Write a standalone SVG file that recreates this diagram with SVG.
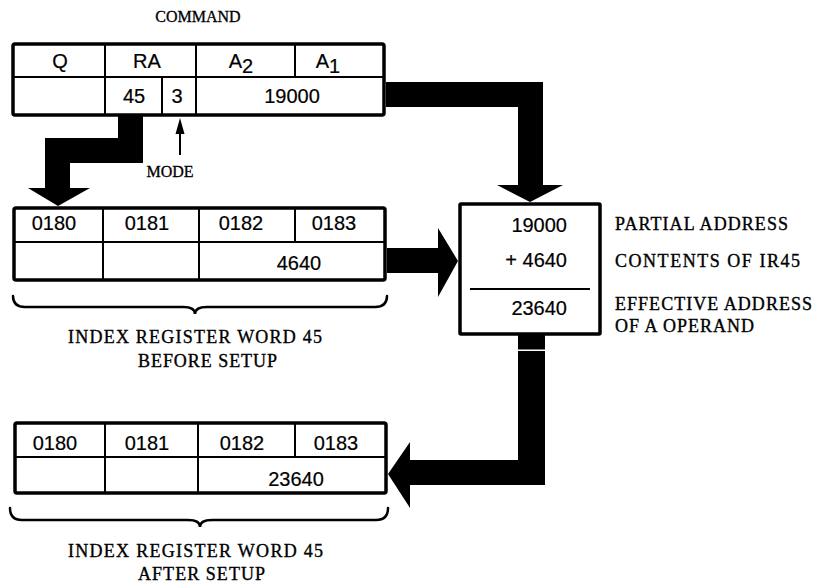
<svg xmlns="http://www.w3.org/2000/svg" width="817" height="586" viewBox="0 0 817 586">
<style>
.box{fill:#fff;stroke:#000;stroke-width:3.5;}
.div{stroke:#000;stroke-width:2;fill:none;}
.cell{font-family:"Liberation Sans",Arial,sans-serif;font-size:20px;fill:#000;stroke:#000;stroke-width:0.2;text-anchor:middle;}
.sum{font-family:"Liberation Sans",Arial,sans-serif;font-size:20px;fill:#000;stroke:#000;stroke-width:0.2;text-anchor:end;}
.ser{font-family:"Liberation Serif","Times New Roman",serif;font-size:16px;fill:#000;stroke:#000;stroke-width:0.3;text-anchor:middle;}
.typ{font-family:"Liberation Serif","Times New Roman",serif;font-size:18px;fill:#000;stroke:#000;stroke-width:0.35;}
.brace{fill:none;stroke:#000;stroke-width:2.5;stroke-linecap:round;}
.flow{fill:#000;stroke:none;}
</style>
<rect width="817" height="586" fill="#fff"/>

<g id="command">
<text class="ser" x="198" y="22">COMMAND</text>
<rect class="box" x="13" y="44" width="371" height="71" rx="2"/>
<path class="div" d="M14,77 H383 M105,45 V114 M196,45 V114 M295,45 V77 M162,77 V114"/>
<text class="cell" x="60" y="68">Q</text>
<text class="cell" x="147" y="68">RA</text>
<text class="cell" x="241" y="68">A<tspan dy="5">2</tspan></text>
<text class="cell" x="328" y="68">A<tspan dy="5">1</tspan></text>
<text class="cell" x="134" y="103">45</text>
<text class="cell" x="177" y="103">3</text>
<text class="cell" x="292" y="103">19000</text>
</g>

<g id="mode">
<line class="div" x1="180" y1="155" x2="180" y2="130"/>
<polygon class="flow" points="180,118 184.5,134 175.5,134"/>
<text class="ser" x="170" y="177">MODE</text>
</g>

<g id="index-before">
<rect class="box" x="14" y="208" width="371" height="72" rx="2"/>
<path class="div" d="M15,242 H384 M103,209 V279 M199,209 V279 M295,209 V242"/>
<text class="cell" x="54" y="230">0180</text>
<text class="cell" x="147" y="230">0181</text>
<text class="cell" x="241" y="230">0182</text>
<text class="cell" x="334" y="230">0183</text>
<text class="cell" x="299" y="270">4640</text>
<path class="brace" d="M13,296 Q13,307 25,307 L183,307 Q195,307 195,314 Q195,307 207,307 L375,307 Q387,307 387,296"/>
<text class="typ" x="68" y="343" textLength="254" lengthAdjust="spacing">INDEX REGISTER WORD 45</text>
<text class="typ" x="138" y="367" textLength="139" lengthAdjust="spacing">BEFORE SETUP</text>
</g>

<g id="sum">
<rect class="box" x="460" y="204" width="140" height="130" rx="1"/>
<text class="sum" x="567" y="232">19000</text>
<text class="sum" x="567" y="267">+ 4640</text>
<line class="div" x1="470" y1="289" x2="590" y2="289"/>
<text class="sum" x="567" y="315">23640</text>
<text class="typ" x="615" y="230" textLength="173" lengthAdjust="spacing">PARTIAL ADDRESS</text>
<text class="typ" x="615" y="267" textLength="185" lengthAdjust="spacing">CONTENTS OF IR45</text>
<text class="typ" x="615" y="310" textLength="197" lengthAdjust="spacing">EFFECTIVE ADDRESS</text>
<text class="typ" x="615" y="332" textLength="139" lengthAdjust="spacing">OF A OPERAND</text>
</g>

<g id="index-after">
<rect class="box" x="15" y="423" width="371" height="70" rx="2"/>
<path class="div" d="M16,457 H385 M105,424 V492 M198,424 V492 M295,424 V457"/>
<text class="cell" x="55" y="450">0180</text>
<text class="cell" x="147" y="450">0181</text>
<text class="cell" x="242" y="450">0182</text>
<text class="cell" x="336" y="450">0183</text>
<text class="cell" x="296" y="486">23640</text>
<path class="brace" d="M10,508 Q10,520 22,520 L188,520 Q200,520 200,527 Q200,520 212,520 L376,520 Q388,520 388,508"/>
<text class="typ" x="68" y="557" textLength="255" lengthAdjust="spacing">INDEX REGISTER WORD 45</text>
<text class="typ" x="138" y="580" textLength="127" lengthAdjust="spacing">AFTER SETUP</text>
</g>

<g id="connectors">
<polygon class="flow" points="118,116 143,116 143,163 70,163 70,188 90,188 58,206 28,188 45,188 45,138 118,138"/>
<polygon class="flow" points="386,82 543,82 543,185 563,185 530,202 497,185 518,185 518,107 386,107"/>
<polygon class="flow" points="387,248 438,248 438,228 458,261 438,297 438,273 387,273"/>
<polygon class="flow" points="518,335 545,335 545,485 410,485 410,508 388,474 410,442 410,460 518,460"/>
<rect x="516" y="349.5" width="31" height="1.5" fill="#fff"/>
</g>
</svg>
